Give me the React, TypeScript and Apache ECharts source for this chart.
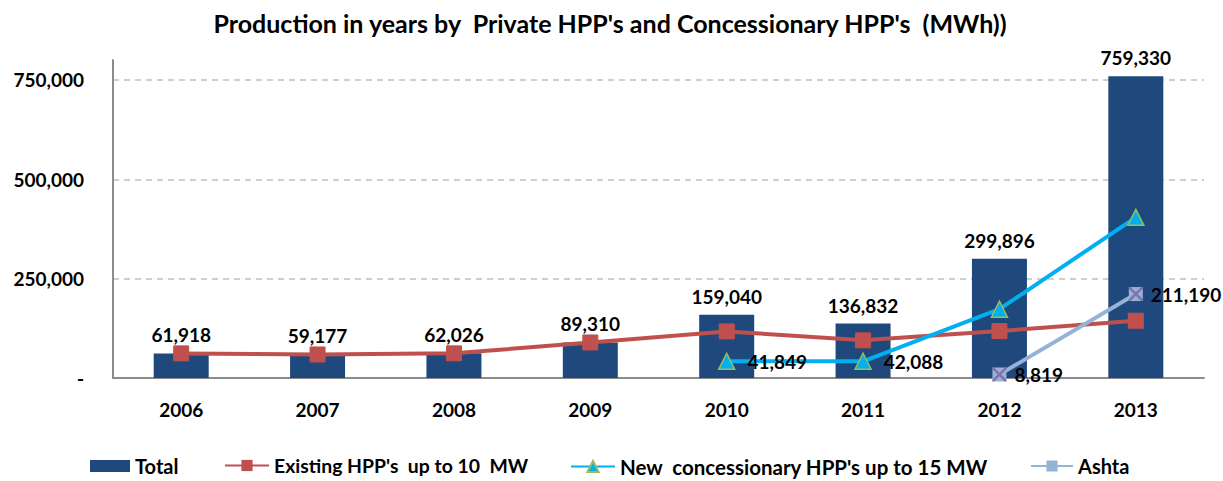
import React, { useEffect, useRef } from "react";
import * as echarts from "echarts";

const years = ["2006", "2007", "2008", "2009", "2010", "2011", "2012", "2013"];
const totalValues = [61918, 59177, 62026, 89310, 159040, 136832, 299896, 759330];
const existingValues = [61918, 59177, 62026, 89310, 117191, 94744, 118000, 144000];
const newConcessionaryValues: (number | null)[] = [null, null, null, null, 41849, 42088, 173077, 404140];
const ashtaValues: (number | null)[] = [null, null, null, null, null, null, 8819, 211190];

const legendNames = [
  "Total",
  "Existing HPP's  up to 10  MW",
  "New  concessionary HPP's up to 15 MW",
  "Ashta",
];

const FONT = "Lato, 'Noto Sans', sans-serif";
const X_PATH =
  "path://M0,0 L1.2,0 L5,3.8 L8.8,0 L10,0 L10,1.2 L6.2,5 L10,8.8 L10,10 L8.8,10 L5,6.2 L1.2,10 L0,10 L0,8.8 L3.8,5 L0,1.2 Z";

const fmt = (v: number) => v.toLocaleString("en-US");

export default function App() {
  const ref = useRef<HTMLDivElement>(null);
  useEffect(() => {
    if (!ref.current) return;
    const chart = echarts.init(ref.current, null, { renderer: "svg" });
    const labelStyle = {
      fontFamily: FONT,
      fontWeight: "bold" as const,
      fontSize: 17,
      color: "#000",
    };
    const legendLefts = [90, 224, 570, 1030];
    const legendWidths = [40, 44, 44, 42];
    const legendSizes = [20, 19.4, 20.5, 20];
    chart.setOption({
      animation: false,
      backgroundColor: "#fff",
      title: {
        text: "Production in years by  Private HPP's and Concessionary HPP's  (MWh))",
        left: 605,
        textAlign: "center",
        top: 5,
        textStyle: { fontFamily: FONT, fontWeight: "bold", fontSize: 25, color: "#000" },
      },
      legend: legendNames.map((n, i) => ({
        left: legendLefts[i],
        top: 456,
        padding: 0,
        itemWidth: legendWidths[i],
        itemHeight: i === 0 ? 12 : 14,
        textStyle: { fontFamily: FONT, fontWeight: "bold", fontSize: legendSizes[i], color: "#000" },
        data: [i === 0 ? { name: n, icon: "rect" } : n],
      })),
      grid: { left: 113, right: 19, top: 60, bottom: 103 },
      xAxis: {
        type: "category",
        data: years,
        axisLine: { lineStyle: { color: "#8c8c8c", width: 2 } },
        axisTick: { show: false },
        axisLabel: { ...labelStyle, fontSize: 19, margin: 22 },
      },
      yAxis: {
        type: "value",
        min: 0,
        max: 800000,
        interval: 250000,
        axisLine: { show: true, lineStyle: { color: "#8c8c8c", width: 2 } },
        axisTick: { show: false },
        axisLabel: {
          ...labelStyle,
          fontSize: 19,
          margin: 29,
          showMaxLabel: false,
          formatter: (v: number) => (v === 0 ? "-" : fmt(v)),
        },
        splitLine: {
          show: true,
          showMinLine: false,
          showMaxLine: false,
          lineStyle: { color: "#c0c0c0", type: [6, 5], width: 1.5 },
        },
      },
      series: [
        {
          name: legendNames[0],
          type: "bar",
          data: totalValues,
          barWidth: 55,
          itemStyle: { color: "#1F497D" },
          label: {
            show: true,
            position: "top",
            distance: 9,
            ...labelStyle,
            fontSize: 19,
            formatter: (p: any) => fmt(p.value),
          },
          z: 1,
        },
        {
          name: legendNames[1],
          type: "line",
          data: existingValues,
          symbol: "rect",
          symbolSize: 15,
          lineStyle: { color: "#C0504D", width: 4 },
          itemStyle: { color: "#C0504D", borderColor: "#C0504D" },
          z: 3,
        },
        {
          name: legendNames[2],
          type: "line",
          data: newConcessionaryValues,
          symbol: "triangle",
          symbolSize: 16,
          lineStyle: { color: "#00B0F0", width: 4 },
          itemStyle: { color: "#00B0F0", borderColor: "#9BBB59", borderWidth: 1.5 },
          label: {
            show: true,
            position: "right",
            distance: 12,
            ...labelStyle,
            fontSize: 19,
            formatter: (p: any) => (p.dataIndex === 4 || p.dataIndex === 5 ? fmt(p.value) : ""),
          },
          z: 4,
        },
        {
          name: legendNames[3],
          type: "line",
          data: ashtaValues,
          symbol: "rect",
          symbolSize: 14,
          lineStyle: { color: "#95B3D7", width: 4 },
          itemStyle: { color: "#95B3D7" },
          label: {
            show: true,
            position: "right",
            distance: 8,
            ...labelStyle,
            fontSize: 19,
            formatter: (p: any) => fmt(p.value),
          },
          z: 5,
        },
        {
          name: "AshtaX",
          type: "scatter",
          data: ashtaValues,
          symbol: X_PATH,
          symbolSize: 14,
          itemStyle: { color: "#7F5FA0" },
          silent: true,
          z: 6,
        },
      ],
    });
    return () => chart.dispose();
  }, []);
  return <div ref={ref} style={{ width: 1223, height: 481, position: "absolute", left: 0, top: 0 }} />;
}
